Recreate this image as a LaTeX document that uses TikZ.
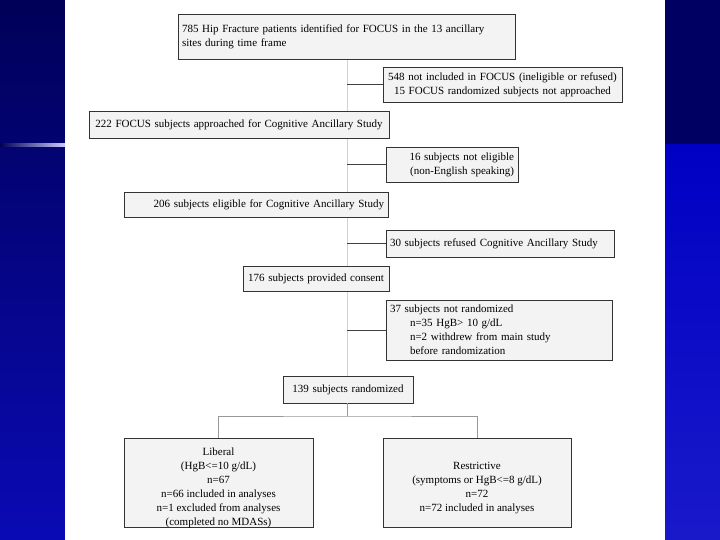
\documentclass[tikz,border=0pt]{standalone}
\usepackage{fontspec}
\setmainfont{Liberation Serif}
\usetikzlibrary{calc}
\pgfdeclarelayer{bg}
\pgfdeclarelayer{mid}
\pgfsetlayers{bg,mid,main}
\definecolor{navytop}{HTML}{000058}
\definecolor{navybot}{HTML}{0A0AB4}
\definecolor{bandlow}{HTML}{0000C4}
\definecolor{boxfill}{HTML}{F3F3F3}
\definecolor{boxline}{HTML}{333333}
\tikzset{
  fbox/.style={draw=boxline, fill=boxfill, line width=0.9pt, inner xsep=4pt, inner ysep=0pt,
    font=\fontsize{11}{14}\selectfont},
  btext/.style={inner sep=0pt, font=\fontsize{11}{14}\selectfont, align=center},
  trunk/.style={draw=gray!35, line width=0.7pt},
  link/.style={draw=black!75, line width=0.8pt}
}
\begin{document}
\begin{tikzpicture}[x=1pt,y=-1pt]
\useasboundingbox (0,0) rectangle (720,540);
\begin{pgfonlayer}{bg}
  \shade[top color=navytop, bottom color=navybot] (0,0) rectangle (720,540);
  \fill[navytop!90!bandlow] (665,0) rectangle (720,145);
  \shade[top color=bandlow, bottom color=bandlow!90!white] (665,145) rectangle (720,540);
  \shade[left color=navytop, right color=blue!20!white] (0,144) rectangle (65,147);
  \fill[white] (65,0) rectangle (665,540);
\end{pgfonlayer}

\node[fbox, minimum width=337pt, minimum height=45pt, text width=329pt, align=left] (b1) at (346.5,36.5)
  {785 Hip Fracture patients identified for FOCUS in the 13 ancillary\\sites during time frame};
\node[fbox, minimum width=239pt, minimum height=35pt, text width=231pt, align=center] (b2) at (502.5,84.5)
  {548 not included in FOCUS (ineligible or refused)\\15 FOCUS randomized subjects not approached};
\node[fbox, minimum width=300pt, minimum height=27pt, text width=292pt, align=center] (b3) at (239,124.5)
  {222 FOCUS subjects approached for Cognitive Ancillary Study};
\node[fbox, minimum width=132pt, minimum height=35pt, text width=124pt, align=right] (b4) at (452,164.5)
  {16 subjects not eligible\\(non-English speaking)};
\node[fbox, minimum width=264pt, minimum height=25pt, text width=256pt, align=right] (b5) at (256,204.5)
  {206 subjects eligible for Cognitive Ancillary Study};
\node[fbox, minimum width=228pt, minimum height=27pt, text width=220pt, align=left] (b6) at (500,243.5)
  {30 subjects refused Cognitive Ancillary Study};
\node[fbox, minimum width=146pt, minimum height=25pt, text width=138pt, align=center] (b7) at (316,278.5)
  {176 subjects provided consent};
\node[fbox, minimum width=226pt, minimum height=60pt, text width=218pt, align=left] (b8) at (499,330)
  {37 subjects not randomized\\\hspace*{20pt}n=35 HgB> 10 g/dL\\\hspace*{20pt}n=2 withdrew from main study\\\hspace*{20pt}before randomization};
\node[fbox, minimum width=130pt, minimum height=27pt, text width=122pt, align=center] (b9) at (348,389.5)
  {139 subjects randomized};
\node[fbox, minimum width=189pt, minimum height=89pt] (b10) at (218.5,482.5) {};
\node[btext] (t10) at ($(b10.center)+(0,5)$)
  {Liberal\\(HgB<=10 g/dL)\\n=67\\n=66 included in analyses\\n=1 excluded from analyses\\(completed no MDASs)};
\node[fbox, minimum width=188pt, minimum height=89pt] (b11) at (477,482.5) {};
\node[btext] (t11) at ($(b11.center)+(0,6)$)
  {Restrictive\\(symptoms or HgB<=8 g/dL)\\n=72\\n=72 included in analyses};

\begin{pgfonlayer}{mid}
  \coordinate (top) at (347,59);
  \coordinate (bot) at (347,376);
  \draw[trunk] (top) -- (bot);
\end{pgfonlayer}
\draw[link] (b2.west) -- (b2.west -| top);
\draw[link] (b4.west) -- (b4.west -| top);
\draw[link] (b6.west) -- (b6.west -| top);
\draw[link] (b8.west) -- (b8.west -| top);
\coordinate (split) at (347,416);
\draw[link, draw=gray!80] (b9.south -| split) -- (split);
\draw[link, draw=gray!80] (b10.north) |- (split) -| (b11.north);
\end{tikzpicture}
\end{document}
